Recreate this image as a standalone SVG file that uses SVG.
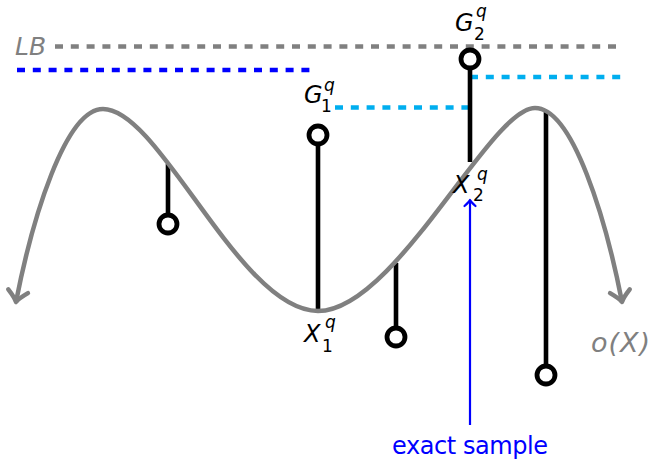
<svg xmlns="http://www.w3.org/2000/svg" width="652" height="461" viewBox="0 0 652 461">
<style>
.dash{fill:none;stroke-width:4.6;stroke-dasharray:8 7.8}
.stem{stroke:#000;stroke-width:4.6;fill:none}
.pin{stroke:#000;stroke-width:4.8;fill:#fff}
.m{font-family:"DejaVu Sans",sans-serif;font-style:italic;font-size:24px}
.r{font-family:"DejaVu Sans",sans-serif;font-style:normal}
.s{font-size:17px}
</style>
<defs>
<marker id="ah" viewBox="-15 -15 30 30" markerWidth="30" markerHeight="30" refX="0" refY="0" orient="auto-start-reverse" markerUnits="userSpaceOnUse">
<path d="M-11,-10 Q-4,-2 0,0 Q-4,2 -11,10" fill="none" stroke="#808080" stroke-width="4.5" stroke-linecap="round" stroke-linejoin="round"/>
</marker>
<marker id="bh" viewBox="-10 -10 20 20" markerWidth="20" markerHeight="20" refX="0" refY="0" orient="auto" markerUnits="userSpaceOnUse">
<path d="M-6,-5.5 Q-2,-1 0,0 Q-2,1 -6,5.5" fill="none" stroke="#0000ff" stroke-width="2.2" stroke-linecap="round" stroke-linejoin="round"/>
</marker>
</defs>
<g id="bounds">
<line class="dash" x1="55" y1="46.5" x2="622" y2="46.5" stroke="#808080"/>
<line class="dash" x1="17" y1="70" x2="312" y2="70" stroke="#0000ff"/>
<line class="dash" x1="335" y1="107.5" x2="470" y2="107.5" stroke="#00aeef"/>
<line class="dash" x1="470" y1="77" x2="622" y2="77" stroke="#00aeef"/>
</g>
<g id="connectors">
<line class="stem" x1="168" y1="164" x2="168" y2="224"/>
<line class="stem" x1="318" y1="135" x2="318" y2="311"/>
<line class="stem" x1="396" y1="263" x2="396" y2="337"/>
<line class="stem" x1="546" y1="112" x2="546" y2="375"/>
<line class="stem" x1="470" y1="59" x2="470" y2="162"/>
<line x1="470" y1="425" x2="470" y2="200" stroke="#0000ff" stroke-width="2.2" marker-end="url(#bh)"/>
</g>
<g id="curve">
<path d="M16,302 C32,220 65,109 103,109 C160,109 240,311 318,311 C395,311 490,108 535,108 C573,108 606,220 622,302" fill="none" stroke="#808080" stroke-width="4.5" marker-start="url(#ah)" marker-end="url(#ah)"/>
</g>
<g id="n1"><circle class="pin" cx="168" cy="224" r="9"/></g>
<g id="n2"><circle class="pin" cx="318" cy="135" r="9"/></g>
<g id="n3"><circle class="pin" cx="396" cy="337" r="9"/></g>
<g id="n4"><circle class="pin" cx="546" cy="375" r="9"/></g>
<g id="n5"><circle class="pin" cx="470" cy="59" r="9"/></g>
<g id="labels">
<text class="m" x="15" y="55" fill="#808080" style="font-size:25px">LB</text>
<text class="m" x="304" y="103">G<tspan class="r s" x="321" y="112">1</tspan><tspan class="s" x="324" y="91">q</tspan></text>
<text class="m" x="455" y="31">G<tspan class="r s" x="474" y="40">2</tspan><tspan class="s" x="476" y="17">q</tspan></text>
<text class="m" x="304" y="342">X<tspan class="r s" x="322" y="352">1</tspan><tspan class="s" x="325" y="328">q</tspan></text>
<text class="m" x="453" y="193">X<tspan class="r s" x="473" y="201">2</tspan><tspan class="s" x="477" y="180">q</tspan></text>
<text class="m" x="591" y="352" fill="#808080" style="font-size:27px" textLength="59">o(X)</text>
<text class="r" x="470" y="454" font-size="24" fill="#0000ff" text-anchor="middle" textLength="156">exact sample</text>
</g>
</svg>
